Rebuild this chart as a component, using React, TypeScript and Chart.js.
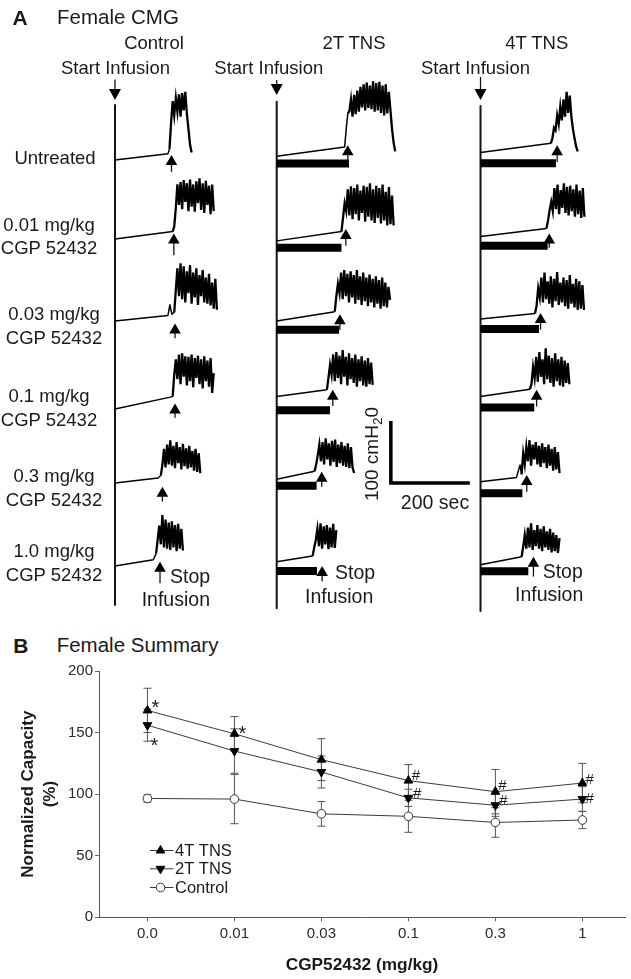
import React, { useEffect, useRef } from 'react';
import { Chart, registerables } from 'chart.js';

Chart.register(...registerables);

const FONT = "'Liberation Sans', Arial, Helvetica, sans-serif";
const INK = '#141414';

/* ================= Panel B data (Female Summary) ================= */
const doseLabels = ['0.0', '0.01', '0.03', '0.1', '0.3', '1'];
const seriesNames = ['4T TNS', '2T TNS', 'Control'];
const tns4Mean = [168, 149, 128, 111, 102, 109];
const tns4Err = [18, 14, 17, 13, 18, 16];
const tns2Mean = [156, 135, 118, 97, 91, 96];
const tns2Err = [13, 18, 13, 7, 9, 10];
const controlMean = [96.5, 96, 84, 82, 77, 79];
const controlErr = [3, 20, 10, 13, 12, 7];
const tns4Marks = ['*', '*', '', '#', '#', '#'];
const tns2Marks = ['*', '', '', '#', '#', '#'];
const yAxisMax = 200;
const yAxisStep = 50;

/* ================= Panel A data (Female CMG traces) ================= */
const columnTitles = ['Control', '2T TNS', '4T TNS'];
const rowTitles = [
  ['Untreated'],
  ['0.01 mg/kg', 'CGP 52432'],
  ['0.03 mg/kg', 'CGP 52432'],
  ['0.1 mg/kg', 'CGP 52432'],
  ['0.3 mg/kg', 'CGP 52432'],
  ['1.0 mg/kg', 'CGP 52432'],
];
const SAMPLE_SEC = 4; // burst samples every 4 s
const scaleBarSec = 200;
const scaleBarCm = 100;

// filling phase: [sec, cmH2O]
const controlRise = [
  [[0, 0], [134, 10], [138, 18]],
  [[0, 0], [146, 12]],
  [[0, 0], [134, 9], [139, 26], [144, 11], [150, 14]],
  [[0, 0], [146, 20]],
  [[0, 0], [109, 8], [116, 12]],
  [[0, 0], [97, 10], [104, 20]],
];
// voiding contractions (cmH2O), sampled every SAMPLE_SEC after filling
const controlBurst = [
  [60, 95, 72, 100, 78, 106, 70, 108, 80, 110, 75, 50, 25, 12],
  [20, 50, 88, 55, 92, 48, 95, 60, 90, 45, 96, 52, 88, 44, 93, 58, 98, 47, 90, 42, 94, 55, 86, 40, 88, 45],
  [50, 85, 40, 93, 35, 88, 30, 80, 45, 90, 28, 78, 38, 85, 26, 74, 40, 82, 30, 70, 28, 76, 25, 62, 20, 68, 18],
  [55, 80, 48, 88, 40, 90, 52, 85, 38, 84, 45, 88, 35, 82, 50, 86, 40, 80, 33, 85, 45, 78, 36, 82, 26, 58],
  [29, 55, 25, 62, 30, 69, 28, 60, 24, 66, 32, 58, 22, 63, 27, 56, 23, 60, 25, 52, 20, 55, 18, 48, 16],
  [42, 65, 35, 82, 30, 75, 28, 70, 26, 72, 30, 66, 24, 68, 28, 60, 25],
];
const tns2Rise = [
  [[0, 6], [172, 21], [176, 50], [180, 75]],
  [[0, -3], [164, 12]],
  [[0, 0], [147, 15]],
  [[0, 20], [127, 31]],
  [[0, 6], [96, 19]],
  [[0, 7], [91, 16]],
];
const tns2Burst = [
  [79, 98, 70, 105, 74, 112, 78, 118, 85, 122, 80, 125, 84, 120, 82, 127, 78, 124, 80, 126, 76, 120, 72, 122, 75, 110, 80, 50, 28, 14],
  [35, 58, 45, 80, 38, 85, 32, 82, 40, 88, 30, 78, 42, 86, 28, 84, 36, 90, 30, 80, 26, 86, 34, 82, 25, 88, 30, 76, 22, 84, 24, 70, 22],
  [40, 60, 45, 78, 35, 82, 40, 76, 30, 80, 38, 74, 28, 82, 34, 72, 26, 78, 32, 70, 24, 75, 30, 68, 22, 72, 28, 66, 20, 70, 24, 62, 22, 55, 34],
  [50, 71, 55, 88, 45, 92, 50, 86, 40, 95, 52, 84, 38, 90, 48, 82, 42, 88, 36, 80, 45, 85, 38, 78, 36, 82, 40, 75, 39],
  [30, 45, 62, 35, 66, 30, 72, 38, 64, 28, 68, 34, 70, 26, 62, 32, 66, 28, 60, 26, 64, 24, 58, 25, 16],
  [30, 42, 60, 32, 69, 28, 64, 35, 66, 27, 62, 30, 68, 29, 58],
];
const tns4Rise = [
  [[0, 12], [178, 27]],
  [[0, 4], [167, 17]],
  [[0, 3], [138, 12]],
  [[0, 20], [125, 32]],
  [[0, 2], [91, 9], [100, 29], [104, 14]],
  [[0, 2], [104, 15]],
];
const tns4Burst = [
  [35, 52, 48, 72, 58, 86, 64, 98, 70, 110, 76, 104, 70, 50, 35, 22, 14],
  [30, 47, 60, 45, 82, 48, 88, 40, 79, 50, 90, 42, 84, 38, 86, 45, 80, 36, 88, 40, 78, 34, 82, 36],
  [25, 53, 38, 70, 30, 78, 35, 64, 28, 72, 22, 68, 32, 79, 26, 62, 30, 70, 24, 66, 20, 74, 28, 60, 22, 68, 18, 64, 20, 58, 18],
  [40, 68, 50, 84, 44, 92, 52, 80, 40, 98, 48, 86, 42, 82, 36, 90, 45, 80, 38, 84, 36, 78, 42, 74, 40],
  [48, 30, 58, 35, 69, 28, 62, 38, 66, 30, 60, 26, 64, 32, 58, 24, 62, 28, 55, 20, 58, 22, 50, 16],
  [31, 50, 28, 62, 30, 69, 26, 58, 32, 66, 28, 60, 24, 64, 30, 56, 26, 60, 22, 54, 24, 50, 21, 45],
];
// TNS stimulation end (s) and stop-infusion times (s)
const tns2StimEnd = [183, 164, 158, 135, 101, 102];
const tns4StimEnd = [191, 170, 148, 136, 106, 121];
const controlStop = [143, 149, 152, 152, 120, 114];
const tns2Stop = [180, 175, 160, 142, 114, 115];
const tns4Stop = [194, 174, 152, 142, 117, 134];

/* ================= Layout (positions / styles) ================= */
const PX_PER_SEC = 0.395;
const PX_PER_CM = 0.62;
const A_W = 631;
const A_H = 620;
const COL_ORIGIN = [291.1, 700.5, 1216.5];
const ROW_BASE = [741.9, 614.5, 482.3, 340.3, 221.0, 87.1];
const STIM_LEVEL = [
  [-5.5, -14, -14, -2, -4.5, -8],
  [-5.3, -11, -13, 2.4, -16.6, -8.5],
];
const STOP_TIP = [
  [8, 9, -4, 9, -6, 7],
  [24, 16, 11, 31, 18, 0],
  [24, 9, 13, 31, 13, 15],
];
const STOP_TAIL = [
  [-19, -26, -28, -14, -30, -28],
  [-5, -11, -14, 5, -6, -25],
  [-3, -14, -14, 4, -14, -17],
];
const START_TIP = [97, 105, 97];
const START_TAIL = [130, 129, 134];
const COL_LINE_TOP = [88.6, 94, 87];
const COL_LINE_BOTTOM = [-63, -68, -72.5];
const SCALE_BAR_AT = 289;

const SIG4_OFF = [[8, -8], [8, -5], [0, 0], [7.5, -5.7], [7, -6.7], [7.2, -4]];
const SIG2_OFF = [[7, 15], [0, 0], [0, 0], [8.8, -5], [8, -5], [7.2, -1]];

function risePoints(col: number, row: number, rise: number[][]) {
  return rise.map(([t, p]) => ({ x: COL_ORIGIN[col] + t, y: ROW_BASE[row] + p }));
}

function burstPoints(col: number, row: number, rise: number[][], burst: number[]) {
  const [tLast, pLast] = rise[rise.length - 1];
  const pts = [{ x: COL_ORIGIN[col] + tLast, y: ROW_BASE[row] + pLast }];
  burst.forEach((p, i) =>
    pts.push({ x: COL_ORIGIN[col] + tLast + (i + 1) * SAMPLE_SEC, y: ROW_BASE[row] + p })
  );
  return pts;
}

function panelAConfig(): any {
  const datasets: any[] = [];
  const line = (data: any[], width: number, extra: any = {}) => ({
    data,
    borderColor: INK,
    borderWidth: width,
    pointRadius: 0,
    fill: false,
    tension: 0,
    borderJoinStyle: 'round',
    ...extra,
  });
  const rises = [controlRise, tns2Rise, tns4Rise];
  const bursts = [controlBurst, tns2Burst, tns4Burst];
  for (let c = 0; c < 3; c++) {
    for (let r = 0; r < 6; r++) {
      datasets.push(line(risePoints(c, r, rises[c][r]), 1.5, { borderColor: '#000' }));
      datasets.push(
        line(burstPoints(c, r, rises[c][r], bursts[c][r]), 2.3, { borderColor: '#000', borderJoinStyle: 'miter' })
      );
    }
  }
  [tns2StimEnd, tns4StimEnd].forEach((ends, k) => {
    const c = k + 1;
    ends.forEach((end, r) => {
      const lvl = ROW_BASE[r] + STIM_LEVEL[k][r];
      datasets.push(
        line([{ x: COL_ORIGIN[c], y: lvl }, { x: COL_ORIGIN[c] + end, y: lvl }], 8, {
          borderCapStyle: 'butt',
          borderColor: '#000',
        })
      );
    });
  });
  for (let c = 0; c < 3; c++) {
    datasets.push(
      line(
        [
          { x: COL_ORIGIN[c], y: ROW_BASE[0] + COL_LINE_TOP[c] },
          { x: COL_ORIGIN[c], y: ROW_BASE[5] + COL_LINE_BOTTOM[c] },
        ],
        2,
        { borderCapStyle: 'butt' }
      )
    );
  }
  const sx = COL_ORIGIN[1] + SCALE_BAR_AT;
  datasets.push(
    line(
      [
        { x: sx, y: ROW_BASE[4] + scaleBarCm },
        { x: sx, y: ROW_BASE[4] },
        { x: sx + scaleBarSec, y: ROW_BASE[4] },
      ],
      3.5,
      { borderJoinStyle: 'miter', borderCapStyle: 'butt', borderColor: '#000' }
    )
  );

  const arrowPlugin = {
    id: 'cmgArrows',
    afterDatasetsDraw(chart: any) {
      const { ctx, scales } = chart;
      const x = scales.x;
      const y = scales.y;
      ctx.save();
      ctx.fillStyle = '#000';
      ctx.strokeStyle = INK;
      ctx.lineWidth = 1.3;
      const stops = [controlStop, tns2Stop, tns4Stop];
      stops.forEach((arr, c) =>
        arr.forEach((t, r) => {
          const px = x.getPixelForValue(COL_ORIGIN[c] + t);
          const tip = y.getPixelForValue(ROW_BASE[r] + STOP_TIP[c][r]);
          const tail = y.getPixelForValue(ROW_BASE[r] + STOP_TAIL[c][r]);
          ctx.beginPath();
          ctx.moveTo(px, tip);
          ctx.lineTo(px - 5.8, tip + 10);
          ctx.lineTo(px + 5.8, tip + 10);
          ctx.closePath();
          ctx.fill();
          ctx.beginPath();
          ctx.moveTo(px, tip + 9);
          ctx.lineTo(px, tail);
          ctx.stroke();
        })
      );
      for (let c = 0; c < 3; c++) {
        const px = x.getPixelForValue(COL_ORIGIN[c]);
        const tip = y.getPixelForValue(ROW_BASE[0] + START_TIP[c]);
        const tail = y.getPixelForValue(ROW_BASE[0] + START_TAIL[c]);
        ctx.beginPath();
        ctx.moveTo(px, tip);
        ctx.lineTo(px - 6, tip - 11);
        ctx.lineTo(px + 6, tip - 11);
        ctx.closePath();
        ctx.fill();
        ctx.beginPath();
        ctx.moveTo(px, tip - 10);
        ctx.lineTo(px, tail);
        ctx.stroke();
      }
      ctx.restore();
    },
  };

  return {
    type: 'line',
    data: { datasets },
    options: {
      responsive: false,
      animation: false,
      events: [],
      layout: { padding: 0 },
      plugins: { legend: { display: false }, tooltip: { enabled: false } },
      scales: {
        x: { type: 'linear', display: false, min: 0, max: A_W / PX_PER_SEC },
        y: { type: 'linear', display: false, min: 0, max: A_H / PX_PER_CM },
      },
    },
    plugins: [arrowPlugin],
  };
}

function drawMarker(ctx: any, style: string, x: number, y: number, r: number, rot: number, fill: string, stroke: string) {
  ctx.beginPath();
  if (style === 'triangle') {
    let rad = (rot * Math.PI) / 180;
    for (let i = 0; i < 3; i++) {
      const px = x + Math.sin(rad) * r;
      const py = y - Math.cos(rad) * r;
      if (i === 0) ctx.moveTo(px, py);
      else ctx.lineTo(px, py);
      rad += (2 * Math.PI) / 3;
    }
    ctx.closePath();
  } else {
    ctx.arc(x, y, r, 0, Math.PI * 2);
  }
  ctx.fillStyle = fill;
  ctx.fill();
  ctx.strokeStyle = stroke;
  ctx.lineWidth = 1;
  ctx.stroke();
}

function panelBConfig(): any {
  const means = [tns4Mean, tns2Mean, controlMean];
  const errs = [tns4Err, tns2Err, controlErr];
  const styles = [
    { pointStyle: 'triangle', rot: 0, fill: '#000', r: 5 },
    { pointStyle: 'triangle', rot: 180, fill: '#000', r: 5 },
    { pointStyle: 'circle', rot: 0, fill: '#fff', r: 4.3 },
  ];
  const datasets = means.map((m, k) => ({
    label: seriesNames[k],
    data: m.map((v, i) => ({ x: i, y: v })),
    borderColor: '#3a3a3a',
    borderWidth: 1,
    tension: 0,
    fill: false,
    pointStyle: styles[k].pointStyle,
    pointRotation: styles[k].rot,
    pointRadius: styles[k].r,
    pointBackgroundColor: styles[k].fill,
    pointBorderColor: k === 2 ? '#333' : '#000',
    pointBorderWidth: 1,
  }));

  const errorBars = {
    id: 'errorBars',
    beforeDatasetsDraw(chart: any) {
      const { ctx, scales } = chart;
      ctx.save();
      ctx.strokeStyle = '#555';
      ctx.lineWidth = 1;
      means.forEach((m, k) =>
        m.forEach((v, i) => {
          const px = scales.x.getPixelForValue(i);
          const top = scales.y.getPixelForValue(v + errs[k][i]);
          const bot = scales.y.getPixelForValue(v - errs[k][i]);
          ctx.beginPath();
          ctx.moveTo(px, top);
          ctx.lineTo(px, bot);
          ctx.moveTo(px - 4, top);
          ctx.lineTo(px + 4, top);
          ctx.moveTo(px - 4, bot);
          ctx.lineTo(px + 4, bot);
          ctx.stroke();
        })
      );
      ctx.restore();
    },
  };

  const marks = {
    id: 'sigMarks',
    afterDatasetsDraw(chart: any) {
      const { ctx, scales } = chart;
      ctx.save();
      ctx.fillStyle = '#1a1a1a';
      ctx.textAlign = 'center';
      ctx.textBaseline = 'alphabetic';
      const sets: [number[], string[], number[][]][] = [
        [tns4Mean, tns4Marks, SIG4_OFF],
        [tns2Mean, tns2Marks, SIG2_OFF],
      ];
      sets.forEach(([m, sig, off]) =>
        sig.forEach((s, i) => {
          if (!s) return;
          const size = s === '*' ? 20 : 15;
          ctx.font = `${size}px ${FONT}`;
          const cx = scales.x.getPixelForValue(i) + off[i][0];
          const cy = scales.y.getPixelForValue(m[i]) + off[i][1];
          ctx.fillText(s, cx, cy + (s === '*' ? 0.57 : 0.35) * size);
        })
      );
      ctx.restore();
    },
  };

  const legend = {
    id: 'insetLegend',
    afterDraw(chart: any) {
      const { ctx } = chart;
      const rowsY = [190.5, 208.8, 227.5];
      ctx.save();
      ctx.font = `16.5px ${FONT}`;
      ctx.textAlign = 'left';
      ctx.textBaseline = 'middle';
      chart.data.datasets.forEach((ds: any, k: number) => {
        const yy = rowsY[k];
        ctx.strokeStyle = '#3a3a3a';
        ctx.lineWidth = 1;
        ctx.beginPath();
        ctx.moveTo(150, yy);
        ctx.lineTo(173.5, yy);
        ctx.stroke();
        drawMarker(ctx, styles[k].pointStyle, 160.5, yy, styles[k].r, styles[k].rot, styles[k].fill, k === 2 ? '#333' : '#000');
        ctx.fillStyle = '#1a1a1a';
        ctx.fillText(ds.label, 175, yy + 1);
      });
      ctx.restore();
    },
  };

  const tickFont = { family: FONT, size: 15 };
  return {
    type: 'line',
    data: { datasets },
    options: {
      responsive: false,
      animation: false,
      events: [],
      layout: { padding: { top: 11, left: 0, right: 0, bottom: 0 } },
      plugins: { legend: { display: false }, tooltip: { enabled: false } },
      scales: {
        x: {
          type: 'linear',
          min: -0.557,
          max: 5.49,
          afterBuildTicks: (s: any) => {
            s.ticks = doseLabels.map((_, i) => ({ value: i }));
          },
          afterFit: (s: any) => {
            s.height = 61.7;
          },
          ticks: {
            callback: (v: number) => doseLabels[v],
            color: '#2a2a2a',
            font: tickFont,
            padding: 3.7,
            maxRotation: 0,
            autoSkip: false,
            includeBounds: false,
          },
          grid: { drawOnChartArea: false, drawTicks: true, tickLength: 4, color: '#666' },
          border: { display: true, color: '#555', width: 1 },
          title: {
            display: true,
            text: 'CGP52432 (mg/kg)',
            color: '#1a1a1a',
            font: { family: FONT, size: 17.3, weight: 'bold' },
            padding: { top: 0, bottom: 3.6 },
          },
        },
        y: {
          type: 'linear',
          min: 0,
          max: yAxisMax,
          afterFit: (s: any) => {
            s.width = 99;
          },
          ticks: { stepSize: yAxisStep, color: '#2a2a2a', font: tickFont, padding: 2 },
          grid: { drawOnChartArea: false, drawTicks: true, tickLength: 4, color: '#666' },
          border: { display: true, color: '#555', width: 1 },
          title: {
            display: true,
            text: ['Normalized Capacity', '(%)'],
            color: '#1a1a1a',
            font: { family: FONT, size: 17, weight: 'bold', lineHeight: 1.3 },
            padding: { top: 17, bottom: 0 },
          },
        },
      },
    },
    plugins: [errorBars, marks, legend],
  };
}

type Txt = { t: any; x: number; y: number; s: number; b?: boolean; a?: 'l' | 'c' | 'r'; rot?: boolean };

function Label({ t, x, y, s, b, a = 'c', rot }: Txt) {
  const tx = a === 'l' ? '0' : a === 'r' ? '-100%' : '-50%';
  return (
    <div
      style={{
        position: 'absolute',
        left: x,
        top: y,
        fontSize: s,
        fontWeight: b ? 700 : 400,
        lineHeight: 1,
        whiteSpace: 'nowrap',
        transform: `translate(${tx},-50%)${rot ? ' rotate(-90deg)' : ''}`,
      }}
    >
      {t}
    </div>
  );
}

const ROW_LABEL_POS: [number, number[]][] = [
  [55, [158.3]],
  [49, [225, 248.3]],
  [54, [313.5, 338.3]],
  [49, [395.5, 420]],
  [54, [475.5, 500]],
  [54, [551, 575]],
];
const COL_TITLE_X = [154, 354, 536.7];
const START_LABEL_X = [115.5, 268.8, 475.5];
const STOP_LABEL_POS = [
  [170, 576.7, 210, 600],
  [335, 572.5, 373.3, 596.7],
  [542.7, 571.7, 583.3, 595],
];

export default function App() {
  const aRef = useRef<HTMLCanvasElement>(null);
  const bRef = useRef<HTMLCanvasElement>(null);

  useEffect(() => {
    const a = new Chart(aRef.current as HTMLCanvasElement, panelAConfig());
    const b = new Chart(bRef.current as HTMLCanvasElement, panelBConfig());
    return () => {
      a.destroy();
      b.destroy();
    };
  }, []);

  const labels: Txt[] = [
    { t: 'A', x: 12.5, y: 16.5, s: 21, b: true, a: 'l' },
    { t: 'Female CMG', x: 57, y: 16.5, s: 20.5, a: 'l' },
    { t: 'B', x: 13.3, y: 645, s: 21, b: true, a: 'l' },
    { t: 'Female Summary', x: 56.7, y: 645.3, s: 20.5, a: 'l' },
    { t: '200 sec', x: 435, y: 502.5, s: 19.5 },
    {
      t: (
        <span>
          100 cmH<span style={{ fontSize: '0.72em', position: 'relative', top: '0.3em' }}>2</span>0
        </span>
      ),
      x: 371,
      y: 454,
      s: 19,
      rot: true,
    },
  ];
  columnTitles.forEach((t, i) => labels.push({ t, x: COL_TITLE_X[i], y: 42.5, s: 18.5 }));
  START_LABEL_X.forEach((x) => labels.push({ t: 'Start Infusion', x, y: 68.3, s: 18.5 }));
  rowTitles.forEach((lines, r) =>
    lines.forEach((t, j) => labels.push({ t, x: ROW_LABEL_POS[r][0], y: ROW_LABEL_POS[r][1][j], s: 18.5 }))
  );
  STOP_LABEL_POS.forEach(([sx, sy, ix, iy]) => {
    labels.push({ t: 'Stop', x: sx, y: sy, s: 19.5, a: 'l' });
    labels.push({ t: 'Infusion', x: ix, y: iy, s: 19.5, a: 'r' });
  });

  return (
    <div
      style={{
        position: 'fixed',
        left: 0,
        top: 0,
        width: 631,
        height: 979,
        background: '#fff',
        overflow: 'hidden',
        fontFamily: FONT,
        color: '#1a1a1a',
      }}
    >
      <canvas ref={aRef} width={A_W} height={A_H} style={{ position: 'absolute', left: 0, top: 0 }} />
      <canvas ref={bRef} width={631} height={319} style={{ position: 'absolute', left: 0, top: 660 }} />
      {labels.map((l, i) => (
        <Label key={i} {...l} />
      ))}
    </div>
  );
}
